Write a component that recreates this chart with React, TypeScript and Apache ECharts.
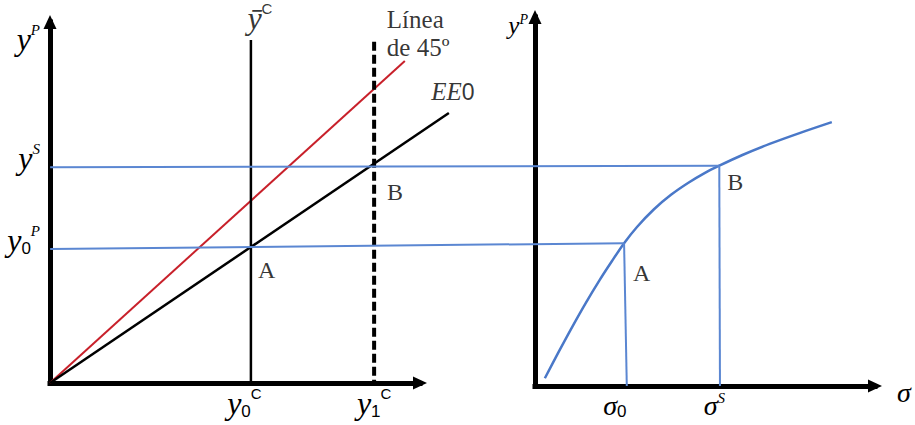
import React, { useEffect, useRef } from 'react';
import * as echarts from 'echarts';

const SERIF = "'Liberation Serif', 'DejaVu Serif', serif";
const SANS = "'Liberation Sans', 'DejaVu Sans', sans-serif";

// ---------- Left panel (arbitrary units, axes 0..100) ----------
const yC0 = 54.3; // ȳC = y0C
const yC1 = 87.6; // y1C (dashed)
const yCBarTop = 95.0;
const yC1Top = 94.5;
const line45 = [[0, 0], [95.9, 89.2]];
const ee0 = [[0, 0], [107.8, 74.8]];
const leftYTicks = [59.8, 37.1];
const leftYTickLabels = ['{v|y}{sp|S}', '{v|y}{sb|0}{sp|P}'];
const leftXTicks = [yC0, yC1];
const leftXTickLabels = ['{v|y}{sb|0}{sc|C}{p13| }', '{v|y}{sb|1}{sc|C}'];
const leftA = [54.3, 37.7];
const leftB = [87.6, 60.3];

// ---------- Right panel (arbitrary units, axes 0..100) ----------
const curve = [
  [2.9, 2.1], [7.0, 9.3], [11.0, 16.1], [15.0, 22.6], [19.0, 28.7],
  [22.6, 33.8], [26.2, 38.7], [30.0, 43.1], [35.0, 47.9], [40.0, 51.8],
  [45.0, 55.0], [50.0, 57.75], [54.2, 59.7], [61.0, 62.6], [69.0, 65.6],
  [78.0, 68.6], [87.3, 71.5],
];
const rightA = [26.2, 38.7];
const rightB = [54.2, 59.7];
const sigmaTicks = [27.0, 54.4];
const sigmaTickLabels = ['{g|σ}{sb|0}{p24| }', '{g|σ}{sp|S}{p11| }'];
const leftEdgeX = -142.6; // left panel's vertical axis, in right-panel units
const ySLine = [[leftEdgeX, 59.3], rightB];
const y0PLine = [[leftEdgeX, 37.1], rightA];
const dropA = [rightA, [sigmaTicks[0], 0]];
const dropB = [rightB, [sigmaTicks[1], 0]];

const rich: any = {
  v: { fontFamily: SERIF, fontStyle: 'italic', fontSize: 32, lineHeight: 34, color: '#000' },
  g: { fontFamily: SERIF, fontStyle: 'italic', fontSize: 28, lineHeight: 30, color: '#000' },
  vs: { fontFamily: SERIF, fontStyle: 'italic', fontSize: 25, lineHeight: 26, color: '#000' },
  sp: { fontFamily: SERIF, fontStyle: 'italic', fontSize: 15, lineHeight: 15, verticalAlign: 'top', color: '#000' },
  sps: { fontFamily: SERIF, fontStyle: 'italic', fontSize: 14, lineHeight: 14, verticalAlign: 'top', color: '#000' },
  sc: { fontFamily: SANS, fontSize: 15, lineHeight: 15, verticalAlign: 'top', color: '#000' },
  sb: { fontFamily: SANS, fontSize: 17, lineHeight: 17, verticalAlign: 'bottom', color: '#000' },
  e: { fontFamily: SERIF, fontStyle: 'italic', fontSize: 25, lineHeight: 28, color: '#000' },
  z: { fontFamily: SANS, fontSize: 23, lineHeight: 28, color: '#000' },
  t: { fontFamily: SERIF, fontSize: 24, lineHeight: 28, color: '#000' },
  L: { fontFamily: SERIF, fontSize: 25, lineHeight: 28, color: '#000' },
  p13: { width: 13 },
  p24: { width: 24 },
  p11: { width: 11 },
};

const axisLine = {
  show: true,
  symbol: ['none', 'triangle'],
  symbolSize: [13, 14],
  lineStyle: { color: '#000', width: 5, cap: 'square' },
};

const hiddenAxis = (gridIndex: number, min: number, max: number) => ({
  gridIndex, type: 'value', min, max, show: false,
});

const lookup = (ticks: number[], labels: string[]) => (v: number) => {
  const i = ticks.findIndex((t) => Math.abs(t - v) < 1e-6);
  return i >= 0 ? labels[i] : '';
};

const BLUE = '#5B87D2';
const CURVE = '#4A78C8';

export default function App() {
  const ref = useRef<HTMLDivElement>(null);
  useEffect(() => {
    document.body.style.margin = '0';
    const chart = echarts.init(ref.current!, null, { renderer: 'svg' });
    const invisible = { color: 'rgba(0,0,0,0)' };
    chart.setOption({
      animation: false,
      backgroundColor: '#fff',
      grid: [
        { left: 50, top: 22, width: 370, height: 361 },
        { left: 535, top: 17, width: 340, height: 369 },
        // same scales as grids 0 and 1, extended so lines may run past the drawn axes
        { left: 50, top: 22, width: 407, height: 361 },
        { left: 25, top: 17, width: 850, height: 369 },
      ],
      xAxis: [
        {
          gridIndex: 0, type: 'value', min: 0, max: 100,
          axisLine, axisTick: { show: false }, splitLine: { show: false },
          axisLabel: {
            show: true, customValues: leftXTicks, margin: 3,
            formatter: lookup(leftXTicks, leftXTickLabels), rich,
          },
        },
        {
          gridIndex: 1, type: 'value', min: 0, max: 100,
          axisLine, axisTick: { show: false }, splitLine: { show: false },
          name: '{g|σ}', nameLocation: 'end', nameGap: 22,
          nameTextStyle: { rich, padding: [12, 0, 0, 0] },
          axisLabel: {
            show: true, customValues: sigmaTicks, margin: 4,
            formatter: lookup(sigmaTicks, sigmaTickLabels), rich,
          },
        },
        hiddenAxis(2, 0, 110),
        hiddenAxis(3, -150, 100),
      ],
      yAxis: [
        {
          gridIndex: 0, type: 'value', min: 0, max: 100,
          axisLine, axisTick: { show: false }, splitLine: { show: false },
          name: '{v|y}{sp|P}', nameLocation: 'end', nameGap: 0,
          nameTextStyle: { rich, align: 'right', verticalAlign: 'top', padding: [0, 10, 0, 0] },
          axisLabel: {
            show: true, customValues: leftYTicks, margin: 10,
            formatter: lookup(leftYTicks, leftYTickLabels), rich,
            padding: [0, 0, 18, 0],
          },
        },
        {
          gridIndex: 1, type: 'value', min: 0, max: 100,
          axisLine, axisTick: { show: false }, splitLine: { show: false },
          name: '{vs|y}{sps|P}', nameLocation: 'end', nameGap: 5,
          nameTextStyle: { rich, align: 'right', verticalAlign: 'top', padding: [0, 7, 0, 0] },
          axisLabel: { show: false },
        },
        hiddenAxis(2, 0, 100),
        hiddenAxis(3, 0, 100),
      ],
      series: [
        {
          type: 'line', xAxisIndex: 0, yAxisIndex: 0, data: line45, symbol: 'none',
          lineStyle: { color: '#C8202A', width: 2 }, z: 3,
        },
        {
          type: 'line', xAxisIndex: 2, yAxisIndex: 2, data: ee0, symbol: 'none',
          lineStyle: { color: '#000', width: 2.5 }, z: 3,
        },
        {
          type: 'line', xAxisIndex: 0, yAxisIndex: 0, data: [[yC0, yCBarTop], [yC0, 0]], symbol: 'none',
          lineStyle: { color: '#000', width: 2.5 }, z: 3,
        },
        {
          type: 'line', xAxisIndex: 0, yAxisIndex: 0, data: [[yC1, yC1Top], [yC1, 0]], symbol: 'none',
          lineStyle: { color: '#000', width: 4, type: [9, 4] }, z: 3,
        },
        {
          type: 'line', xAxisIndex: 1, yAxisIndex: 1, data: curve, symbol: 'none', smooth: 0.3,
          lineStyle: { color: CURVE, width: 2.5 }, z: 3,
        },
        {
          type: 'line', xAxisIndex: 3, yAxisIndex: 3, data: ySLine, symbol: 'none',
          lineStyle: { color: BLUE, width: 2 }, z: 4,
        },
        {
          type: 'line', xAxisIndex: 3, yAxisIndex: 3, data: y0PLine, symbol: 'none',
          lineStyle: { color: BLUE, width: 2 }, z: 4,
        },
        {
          type: 'line', xAxisIndex: 1, yAxisIndex: 1, data: dropA, symbol: 'none',
          lineStyle: { color: BLUE, width: 2 }, z: 4,
        },
        {
          type: 'line', xAxisIndex: 1, yAxisIndex: 1, data: dropB, symbol: 'none',
          lineStyle: { color: BLUE, width: 2 }, z: 4,
        },
        {
          type: 'scatter', xAxisIndex: 2, yAxisIndex: 2, symbolSize: 2, itemStyle: invisible, z: 6,
          data: [
            { value: leftA, label: { show: true, position: [8, 10], formatter: '{t|A}', rich } },
            { value: leftB, label: { show: true, position: [14, 14], formatter: '{t|B}', rich } },
            { value: [yC0, yCBarTop], label: { show: true, position: 'top', distance: 4, offset: [9, 0], formatter: '{v|ȳ}{sc|C}', rich } },
            { value: line45[1], label: { show: true, position: 'top', distance: 0, offset: [-18, 2], align: 'left', formatter: '{L|Línea}\n{L|de 45º}', rich } },
            { value: ee0[1], label: { show: true, position: 'top', distance: 6, offset: [4, 0], formatter: '{e|EE}{z|0}', rich } },
          ],
        },
        {
          type: 'scatter', xAxisIndex: 1, yAxisIndex: 1, symbolSize: 2, itemStyle: invisible, z: 6,
          data: [
            { value: rightA, label: { show: true, position: [10, 17], formatter: '{t|A}', rich } },
            { value: rightB, label: { show: true, position: [9, 3], formatter: '{t|B}', rich } },
          ],
        },
      ],
    });
    return () => chart.dispose();
  }, []);
  return <div ref={ref} style={{ width: 915, height: 425 }} />;
}
